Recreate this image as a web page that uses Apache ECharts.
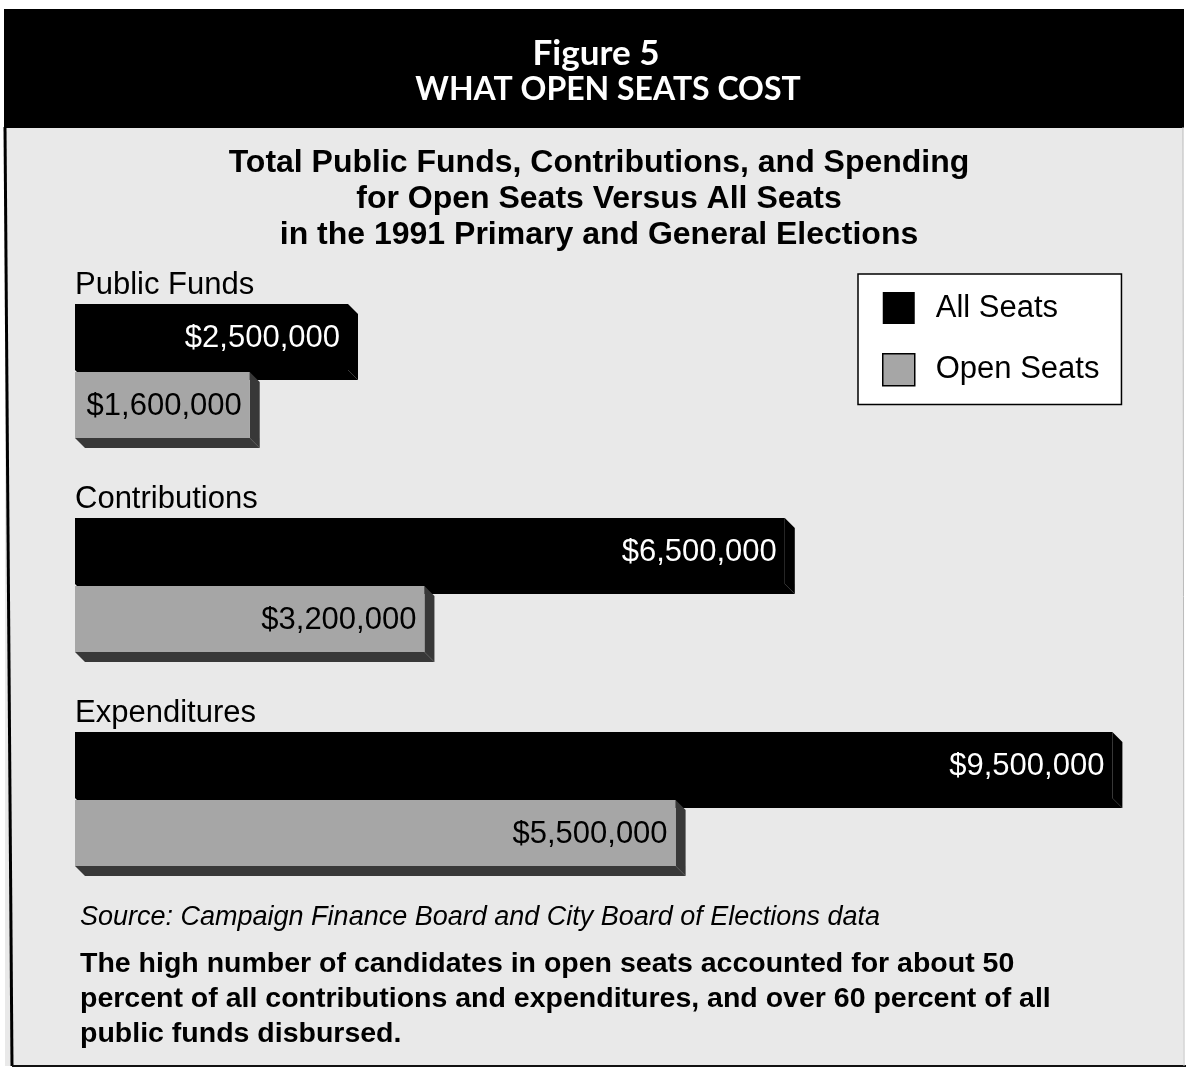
<!DOCTYPE html>
<html>
<head>
<meta charset="utf-8">
<title>What Open Seats Cost</title>
<script src="https://cdn.jsdelivr.net/npm/echarts@6/dist/echarts.min.js"></script>
<style>
  html, body { margin: 0; padding: 0; background: #ffffff; }
  #chart { width: 1186px; height: 1071px; }
</style>
</head>
<body>
<div id="chart"></div>
<script>
// Spending categories, top to bottom
const categories = ['Public Funds', 'Contributions', 'Expenditures'];
// Dollar totals for every seat vs. open seats only
const allSeats = [2500000, 6500000, 9500000];
const openSeats = [1600000, 3200000, 5500000];
const seriesNames = ['All Seats', 'Open Seats'];

const FONT = '"Liberation Sans", Arial, Helvetica, sans-serif';
const HEAD_FONT = 'Lato, "Open Sans", sans-serif';
const PANEL = '#e9e9e9';
const OPEN_FACE = '#a6a6a6';
const OPEN_SIDE = '#383838';

function money(v) {
  return '$' + v.toLocaleString('en-US');
}

// Draw one extruded bar (front face + right and bottom faces) for a category band.
function makeRenderer(upper, face, side, textColor) {
  return function (params, api) {
    const val = api.value(0);
    const cat = api.value(1);
    const start = api.coord([0, cat]);
    const end = api.coord([val, cat]);
    const band = api.size([0, 1])[1];
    const h = Math.round(band * 0.308);
    const d = Math.round(band * 0.047);
    const x0 = start[0];
    const x1 = end[0];
    const cy = start[1];
    const top = upper ? cy - h - 1 : cy + 1;
    const bot = top + h;
    return {
      type: 'group',
      children: [
        {
          type: 'polygon',
          shape: { points: [[x1, top], [x1 + d, top + d], [x1 + d, bot + d], [x1, bot]] },
          style: { fill: side }
        },
        {
          type: 'polygon',
          shape: { points: [[x0, bot], [x1, bot], [x1 + d, bot + d], [x0 + d, bot + d]] },
          style: { fill: side }
        },
        {
          type: 'rect',
          shape: { x: x0, y: top, width: x1 - x0, height: h },
          style: { fill: face }
        },
        {
          type: 'text',
          x: x1 - 8,
          y: top + h / 2 + 1,
          style: {
            text: money(val),
            fill: textColor,
            font: '31px ' + FONT,
            align: 'right',
            verticalAlign: 'middle'
          }
        }
      ]
    };
  };
}

// Category name written above each pair of bars.
function renderCategoryLabel(params, api) {
  const cat = api.value(1);
  const p = api.coord([0, cat]);
  const band = api.size([0, 1])[1];
  return {
    type: 'text',
    x: p[0],
    y: p[1] - band * 0.402,
    style: {
      text: categories[cat],
      fill: '#000',
      font: '31px ' + FONT,
      align: 'left',
      verticalAlign: 'middle'
    }
  };
}

const chart = echarts.init(document.getElementById('chart'), null, { renderer: 'canvas' });

chart.setOption({
  backgroundColor: '#ffffff',
  animation: false,
  graphic: [
    { type: 'rect', z: -5, shape: { x: 5, y: 127, width: 1178, height: 939 }, style: { fill: PANEL } },
    { type: 'rect', z: 0, shape: { x: 4, y: 9, width: 1180, height: 119 }, style: { fill: '#000000' } },
    { type: 'polyline', z: 1, shape: { points: [[5, 127], [12, 1066]] }, style: { stroke: '#000', lineWidth: 3, fill: null } },
    { type: 'polyline', z: 1, shape: { points: [[12, 1066], [1186, 1066]] }, style: { stroke: '#111', lineWidth: 2, fill: null } },
    { type: 'polyline', z: 1, shape: { points: [[1183, 127], [1184, 1066]] }, style: { stroke: '#bbb', lineWidth: 1, fill: null } }
  ],
  title: [
    {
      text: 'Figure 5',
      left: 591, top: 31, textAlign: 'center', padding: 5,
      textStyle: { color: '#ffffff', fontFamily: HEAD_FONT, fontWeight: 'bold', fontSize: 35, lineHeight: 36 }
    },
    {
      text: 'WHAT OPEN SEATS COST',
      left: 603, top: 67, textAlign: 'center', padding: 5,
      textStyle: { color: '#ffffff', fontFamily: HEAD_FONT, fontWeight: 'bold', fontSize: 32, lineHeight: 36 }
    },
    {
      text: 'Total Public Funds, Contributions, and Spending\nfor Open Seats Versus All Seats\nin the 1991 Primary and General Elections',
      left: 594, top: 140, textAlign: 'center',
      textStyle: { color: '#000', fontFamily: FONT, fontWeight: 'bold', fontSize: 32, lineHeight: 36 }
    },
    {
      text: 'Source: Campaign Finance Board and City Board of Elections data',
      left: 75, top: 896,
      textStyle: { color: '#000', fontFamily: FONT, fontStyle: 'italic', fontWeight: 'normal', fontSize: 27, lineHeight: 32 }
    },
    {
      text: 'The high number of candidates in open seats accounted for about 50\npercent of all contributions and expenditures, and over 60 percent of all\npublic funds disbursed.',
      left: 75, top: 942,
      textStyle: { color: '#000', fontFamily: FONT, fontWeight: 'bold', fontSize: 28.5, lineHeight: 35 }
    }
  ],
  legend: {
    orient: 'vertical',
    left: 858, top: 274,
    padding: [18, 22, 18, 24],
    itemGap: 29,
    itemWidth: 32, itemHeight: 32,
    icon: 'rect',
    backgroundColor: '#ffffff',
    borderColor: '#000000',
    borderWidth: 1.5,
    borderRadius: 0,
    selectedMode: false,
    textStyle: { color: '#000', fontFamily: FONT, fontSize: 31, padding: [3, 0, 0, 16] },
    data: [
      { name: seriesNames[0], itemStyle: { color: '#000000' } },
      { name: seriesNames[1], itemStyle: { color: OPEN_FACE, borderColor: '#000', borderWidth: 1.5 } }
    ]
  },
  grid: { left: 75, right: 19, top: 264, bottom: 165, containLabel: false },
  xAxis: { type: 'value', min: 0, max: 10000000, show: false },
  yAxis: {
    type: 'category',
    data: categories,
    inverse: true,
    axisLine: { show: false },
    axisTick: { show: false },
    axisLabel: { show: false }
  },
  series: [
    {
      name: seriesNames[0],
      type: 'custom',
      itemStyle: { color: '#000000' },
      encode: { x: 0, y: 1 },
      renderItem: makeRenderer(true, '#000000', '#000000', '#ffffff'),
      data: allSeats.map((v, i) => [v, i]),
      z: 2
    },
    {
      name: seriesNames[1],
      type: 'custom',
      itemStyle: { color: OPEN_FACE },
      encode: { x: 0, y: 1 },
      renderItem: makeRenderer(false, OPEN_FACE, OPEN_SIDE, '#000000'),
      data: openSeats.map((v, i) => [v, i]),
      z: 3
    },
    {
      name: 'categoryLabels',
      type: 'custom',
      silent: true,
      encode: { x: 0, y: 1 },
      renderItem: renderCategoryLabel,
      data: categories.map((c, i) => [0, i]),
      z: 4
    }
  ]
});
</script>
</body>
</html>
